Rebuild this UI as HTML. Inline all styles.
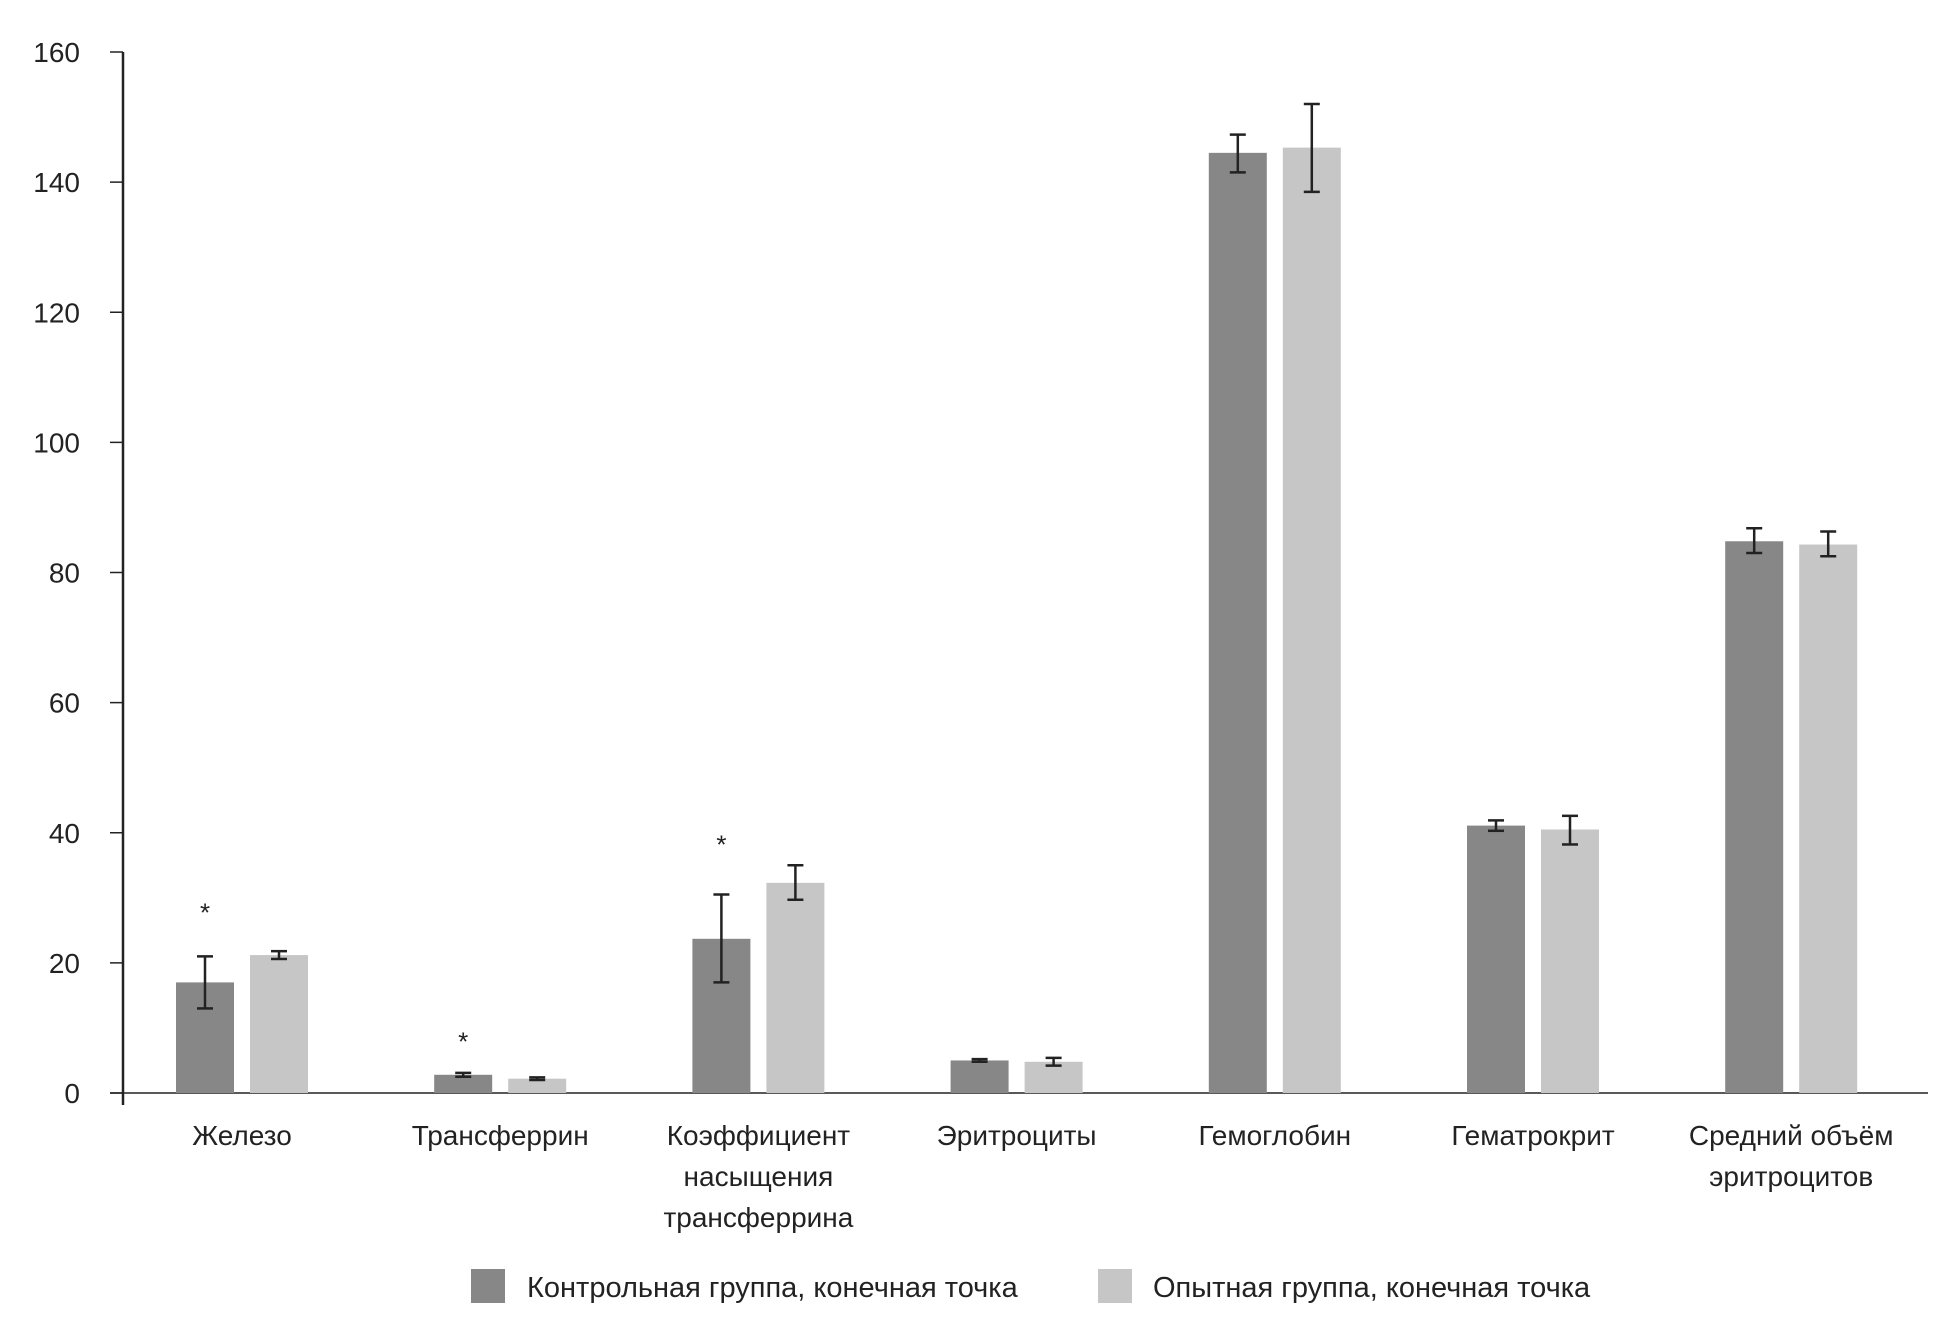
<!DOCTYPE html>
<html><head><meta charset="utf-8"><style>
body{margin:0;background:#fff}
svg text{font-family:"Liberation Sans Narrow","Liberation Sans",sans-serif;fill:#222}
</style></head><body>
<svg id="c" width="1938" height="1328" xmlns="http://www.w3.org/2000/svg"></svg>
<script>
const categories=[["Железо"],["Трансферрин"],["Коэффициент","насыщения","трансферрина"],["Эритроциты"],["Гемоглобин"],["Гематрокрит"],["Средний объём","эритроцитов"]];
const controlValues=[17,2.8,23.7,5.0,144.5,41.1,84.8];
const controlLow=[13,2.5,17,4.8,141.5,40.3,83];
const controlHigh=[21,3.1,30.5,5.2,147.3,41.9,86.8];
const expValues=[21.2,2.2,32.3,4.8,145.3,40.5,84.3];
const expLow=[20.6,2.0,29.7,4.2,138.5,38.2,82.5];
const expHigh=[21.8,2.4,35,5.4,152,42.6,86.3];
const starValues=[28.5,null,39];
const starValues2=[null,8.7,null];
const yTicks=[0,20,40,60,80,100,120,140,160];
const legendLabels=["Контрольная группа, конечная точка","Опытная группа, конечная точка"];
const NS="http://www.w3.org/2000/svg",svg=document.getElementById('c');
const y=v=>1093-v*(1093-52)/160;
const cx=i=>242+i*258.2;
const BW=58,GAP=16;
function mk(t,a,p){const e=document.createElementNS(NS,t);for(const k in a)e.setAttribute(k,a[k]);(p||svg).appendChild(e);return e;}
let ax=mk('line',{x1:123,y1:52,x2:123,y2:1105,stroke:'#222','stroke-width':2.5});


let xa=mk('line',{x1:110,y1:1093,x2:1928,y2:1093,stroke:'#222','stroke-width':1.5});


yTicks.forEach(v=>{
 let t=mk('line',{x1:110,y1:y(v),x2:123,y2:y(v),stroke:'#222','stroke-width':1.5});
 
 
 let l=mk('text',{x:80,y:y(v)+10,'text-anchor':'end','font-size':28});
 l.textContent=v;
 
 
});
function err(x,lo,hi){
 const g=mk('g',{stroke:'#222','stroke-width':2.5});
 
 
 mk('line',{x1:x,y1:y(lo),x2:x,y2:y(hi)},g);
 mk('line',{x1:x-8,y1:y(lo),x2:x+8,y2:y(lo)},g);
 mk('line',{x1:x-8,y1:y(hi),x2:x+8,y2:y(hi)},g);
}
categories.forEach((c,i)=>{
 const x1=cx(i)-GAP/2-BW,x2=cx(i)+GAP/2;
 let b=mk('rect',{x:x1,y:y(controlValues[i]),width:BW,height:y(0)-y(controlValues[i]),fill:'#878787'});
 
 
 let b2=mk('rect',{x:x2,y:y(expValues[i]),width:BW,height:y(0)-y(expValues[i]),fill:'#c6c6c6'});
 
 
 err(x1+BW/2,controlLow[i],controlHigh[i]);
 err(x2+BW/2,expLow[i],expHigh[i]);
 const sv=starValues[i]!=null?starValues[i]:starValues2[i];
 if(sv!=null){
  let s=mk('text',{x:x1+BW/2,y:y(sv)+14,'text-anchor':'middle','font-size':26});
  s.textContent='*';
  
  
 }
 c.forEach((ln,j)=>{
  let t=mk('text',{x:cx(i),y:1145+j*41,'text-anchor':'middle','font-size':28});
  t.textContent=ln;
  
  
 });
});
[[471,527,'#878787'],[1098,1153,'#c6c6c6']].forEach((p,k)=>{
 const g=mk('g',{});
 
 
 mk('rect',{x:p[0],y:1269,width:34,height:34,fill:p[2]},g);
 const t=mk('text',{x:p[1],y:1297,'font-size':29},g);
 t.textContent=legendLabels[k];
});
</script>
</body></html>
